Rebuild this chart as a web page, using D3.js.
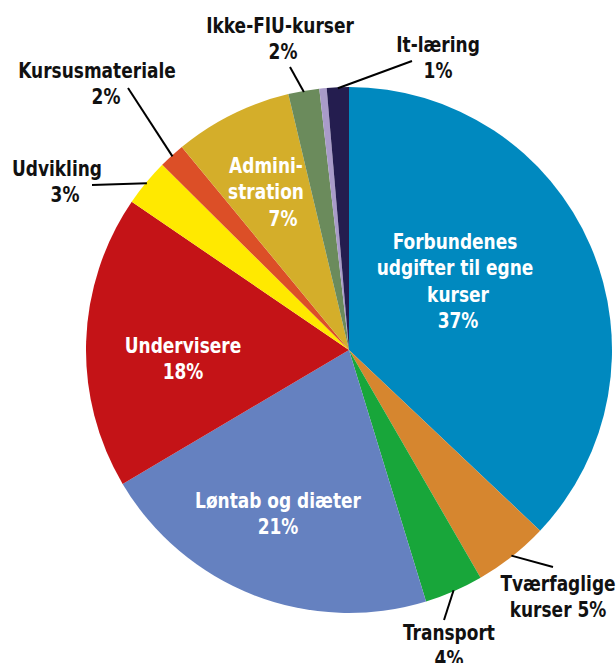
<!DOCTYPE html>
<html>
<head>
<meta charset="utf-8">
<script src="https://cdn.jsdelivr.net/npm/d3@7"></script>
<style>
  body { margin: 0; background: #fff; }
  svg text { font-family: "Liberation Sans Narrow", "DejaVu Sans Condensed", "Roboto Condensed", sans-serif; font-weight: bold; font-size: 21px; }
</style>
</head>
<body>
<div id="chart"></div>
<script>
// slice data, clockwise from 12 o'clock
const categories = ["Forbundenes udgifter til egne kurser", "Tværfaglige kurser", "Transport", "Løntab og diæter",
  "Undervisere", "Udvikling", "Kursusmateriale", "Administration", "Ikke-FIU-kurser", "Øvrigt", "It-læring"];
const values = [37.0, 4.6, 3.6, 21.2, 18.0, 2.9, 1.6, 7.25, 1.9, 0.45, 1.35];
const colors = ["#0089bf", "#d6862f", "#18a63a", "#6581c0", "#c41317", "#ffe900", "#dc4f27", "#d4ae2a", "#6b8b5c", "#a99bc9", "#241d4f"];

// label text per slice (last line is the percent)
const labelLines = [
  ["Forbundenes", "udgifter til egne", "kurser", "37%"],
  ["Tværfaglige", "kurser 5%"],
  ["Transport", "4%"],
  ["Løntab og diæter", "21%"],
  ["Undervisere", "18%"],
  ["Udvikling", "3%"],
  ["Kursusmateriale", "2%"],
  ["Admini-", "stration", "7%"],
  ["Ikke-FIU-kurser", "2%"],
  [],
  ["It-læring", "1%"]
];

// label layout: anchor of first baseline, inside/outside, leader line end
const labelPos = [
  { x: 455, y: 249, inside: true, lx: [0, 0, 3, 3] },
  { x: 558, y: 591, leader: [553, 567] },
  { x: 449, y: 640, leader: [444, 620] },
  { x: 278, y: 508, inside: true, lx: [0, 0] },
  { x: 183, y: 353, inside: true, lx: [0, 0] },
  { x: 57, y: 176, leader: [92, 185], lx: [0, 8] },
  { x: 97, y: 78, leader: [128, 88], lx: [0, 9] },
  { x: 266, y: 173, inside: true, lx: [0, 0, 17] },
  { x: 280, y: 33, leader: [290, 67], lx: [0, 3] },
  null,
  { x: 438, y: 52, leader: [412, 61] }
];

const width = 616, height = 663;
const cx = 349, cy = 350, radius = 263;
const lineHeight = 26.5;
const squeeze = 0.9; // narrow the fallback font to the condensed look

const svg = d3.select("#chart").append("svg")
  .attr("width", width)
  .attr("height", height);

const pie = d3.pie().sort(null).value(d => d.value);
const arcs = pie(values.map((v, i) => ({ value: v, i: i })));

const arc = d3.arc().innerRadius(0).outerRadius(radius);
const edgeArc = d3.arc().innerRadius(radius - 1).outerRadius(radius - 1);

const g = svg.append("g").attr("transform", `translate(${cx},${cy})`);

g.selectAll("path")
  .data(arcs)
  .enter()
  .append("path")
  .attr("d", arc)
  .attr("fill", d => colors[d.data.i]);

// leader lines for outside labels
arcs.forEach(d => {
  const p = labelPos[d.data.i];
  if (!p || !p.leader) return;
  const [sx, sy] = edgeArc.centroid(d);
  svg.append("line")
    .attr("x1", sx + cx).attr("y1", sy + cy)
    .attr("x2", p.leader[0]).attr("y2", p.leader[1])
    .attr("stroke", "#000")
    .attr("stroke-width", 2);
});

// labels
labelLines.forEach((lines, i) => {
  const p = labelPos[i];
  if (!p) return;
  const t = svg.append("text")
    .attr("transform", `translate(${p.x},${p.y}) scale(${squeeze},1)`)
    .attr("text-anchor", "middle")
    .attr("fill", p.inside ? "#fff" : "#111");
  lines.forEach((line, k) => {
    t.append("tspan")
      .attr("x", (p.lx ? (p.lx[k] || 0) : 0) / squeeze)
      .attr("y", k * lineHeight)
      .text(line);
  });
});
</script>
</body>
</html>
